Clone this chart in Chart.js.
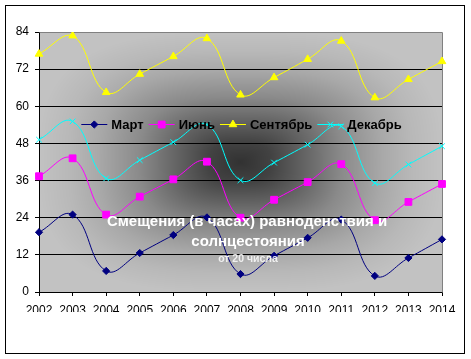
<!DOCTYPE html>
<html><head><meta charset="utf-8">
<script src="https://cdn.jsdelivr.net/npm/chart.js@4/dist/chart.umd.min.js"></script>
<style>html,body{margin:0;padding:0;background:#fff}#wrap{width:471px;height:359px;position:relative}</style>
</head><body><div id="wrap"><canvas id="c" width="471" height="359"></canvas></div>
<script>
const years = ['2002','2003','2004','2005','2006','2007','2008','2009','2010','2011','2012','2013','2014'];
const seriesNames = ['Март','Июнь','Сентябрь','Декабрь'];
const march     = [19.3, 25.0, 6.8, 12.6, 18.4, 24.1, 5.8, 11.7, 17.5, 23.4, 5.2, 11.0, 17.0];
const june      = [37.4, 43.2, 25.0, 30.8, 36.4, 42.1, 24.0, 29.8, 35.5, 41.3, 23.2, 29.1, 34.9];
const september = [76.9, 82.8, 64.5, 70.4, 76.1, 81.9, 63.7, 69.3, 75.2, 81.1, 62.8, 68.7, 74.5];
const december  = [49.2, 55.1, 36.7, 42.6, 48.4, 54.1, 36.1, 41.8, 47.6, 53.5, 35.2, 41.2, 47.1];
const yMin = 0, yMax = 84, yStep = 12;
const titleLines = ['Смещения (в часах) равноденствия и', 'солнцестояния'];
const subtitle = 'от 20 числа';

const colors = ['#000080', '#FF00FF', '#FFFF00', '#00FFFF'];
const styles = [
  {pointStyle:'rectRot', radius:3.6},
  {pointStyle:'rect', radius:4.8},
  {pointStyle:'triangle', radius:4.4},
  {pointStyle:'crossRot', radius:4}
];
const values = [march, june, september, december];

const FONT = 'Arial, "Liberation Sans", sans-serif';

function shade(t){
  const stops = [[0,50],[0.15,66],[0.3,96],[0.5,138],[0.7,168],[0.85,184],[1,194]];
  for (let i=1;i<stops.length;i++){
    if (t<=stops[i][0]){
      const a=stops[i-1], b=stops[i];
      const f=(t-a[0])/(b[0]-a[0]);
      return a[1]+(b[1]-a[1])*f;
    }
  }
  return stops[stops.length-1][1];
}

const bgPlugin = {
  id:'bg',
  beforeDraw(chart){
    const ctx = chart.ctx, a = chart.chartArea;
    ctx.save();
    ctx.fillStyle='#fff';
    ctx.fillRect(0,0,chart.width,chart.height);
    const w = Math.round(a.right-a.left), h = Math.round(a.bottom-a.top);
    const off = document.createElement('canvas');
    off.width=w; off.height=h;
    const octx = off.getContext('2d');
    const img = octx.createImageData(w,h);
    const cx=w/2, cy=h/2, p=3;
    for (let y=0;y<h;y++){
      for (let x=0;x<w;x++){
        const u = Math.abs(x+0.5-cx)/cx, v0 = Math.abs(y+0.5-cy)/cy;
        const t = Math.min(1, Math.pow(Math.pow(u,p)+Math.pow(v0,p), 1/p));
        const v = shade(t);
        const i=(y*w+x)*4;
        img.data[i]=v; img.data[i+1]=v; img.data[i+2]=v; img.data[i+3]=255;
      }
    }
    octx.putImageData(img,0,0);
    ctx.drawImage(off, Math.round(a.left), Math.round(a.top));
    ctx.strokeStyle='#000'; ctx.lineWidth=1;
    ctx.strokeRect(5.5,5.5,459,348);
    ctx.restore();
  },
  beforeDatasetsDraw(chart){
    const ctx = chart.ctx, a = chart.chartArea;
    ctx.save();
    ctx.strokeStyle='#808080'; ctx.lineWidth=1;
    ctx.beginPath();
    ctx.moveTo(Math.round(a.left)+0.5, Math.round(a.top)+0.5);
    ctx.lineTo(Math.round(a.right)+0.5, Math.round(a.top)+0.5);
    ctx.lineTo(Math.round(a.right)+0.5, Math.round(a.bottom)+0.5);
    ctx.stroke();
    ctx.restore();
  },
  afterDraw(chart){
    const ctx = chart.ctx;
    ctx.save();
    // legend
    const symW = 26, gap1 = 4, gap2 = 5;
    ctx.font = 'bold 13px ' + FONT;
    const widths = seriesNames.map(n => ctx.measureText(n).width);
    let total = 0;
    widths.forEach((w,i)=>{ total += symW + gap1 + w + (i<widths.length-1?gap2:0); });
    let x = 241.5 - total/2;
    const ly = 124;
    seriesNames.forEach((n,i)=>{
      ctx.strokeStyle = colors[i]; ctx.fillStyle = colors[i]; ctx.lineWidth = 1;
      ctx.beginPath(); ctx.moveTo(x, ly+0.5); ctx.lineTo(x+symW, ly+0.5); ctx.stroke();
      Chart.helpers.drawPoint(ctx, {pointStyle: styles[i].pointStyle, radius: styles[i].radius, rotation:0, borderWidth:1}, x+symW/2, ly+0.5);
      ctx.fillStyle = '#000'; ctx.textBaseline='middle'; ctx.textAlign='left';
      ctx.fillText(n, x+symW+gap1, ly+1);
      x += symW + gap1 + widths[i] + gap2;
    });
    // title
    ctx.fillStyle = '#ffffff';
    ctx.textAlign = 'center'; ctx.textBaseline = 'middle';
    ctx.font = 'bold 15px ' + FONT;
    ctx.fillText(titleLines[0], 247, 222);
    ctx.fillText(titleLines[1], 248, 242);
    ctx.font = 'bold 10.5px ' + FONT;
    ctx.fillStyle = '#f0f0f0';
    ctx.fillText(subtitle, 248, 259);
    ctx.restore();
  }
};

new Chart(document.getElementById('c'), {
  type:'line',
  data:{
    labels: years,
    datasets: seriesNames.map((n,i)=>({
      label:n, data: values[i],
      borderColor: colors[i], backgroundColor: colors[i],
      borderWidth:1, tension:0.42,
      pointStyle: styles[i].pointStyle, pointRadius: styles[i].radius,
      pointBorderWidth:1, pointBorderColor: colors[i], pointBackgroundColor: colors[i],
      fill:false
    }))
  },
  options:{
    responsive:false, animation:false, devicePixelRatio:1,
    layout:{padding:{left:0, top:32, right:29, bottom:47}},
    plugins:{legend:{display:false}, title:{display:false}, tooltip:{enabled:false}},
    scales:{
      x:{
        type:'category', offset:false,
        grid:{drawOnChartArea:false, drawTicks:true, tickLength:4, color:'#000', tickColor:'#000'},
        border:{color:'#000', width:1},
        ticks:{color:'#000', font:{family:FONT, size:12}, padding:7, maxRotation:0, autoSkip:false},
        afterFit(s){ s.height = 20; }
      },
      y:{
        min:yMin, max:yMax,
        grid:{color:(c)=> (c.tick && c.tick.value===yMax) ? '#808080' : '#000', tickColor:'#000', tickLength:4, lineWidth:1},
        border:{color:'#000', width:1},
        ticks:{stepSize:yStep, color:'#000', font:{family:FONT, size:12}, padding:6},
        afterFit(s){ s.width = 39; }
      }
    }
  },
  plugins:[bgPlugin]
});
</script>
</body></html>
